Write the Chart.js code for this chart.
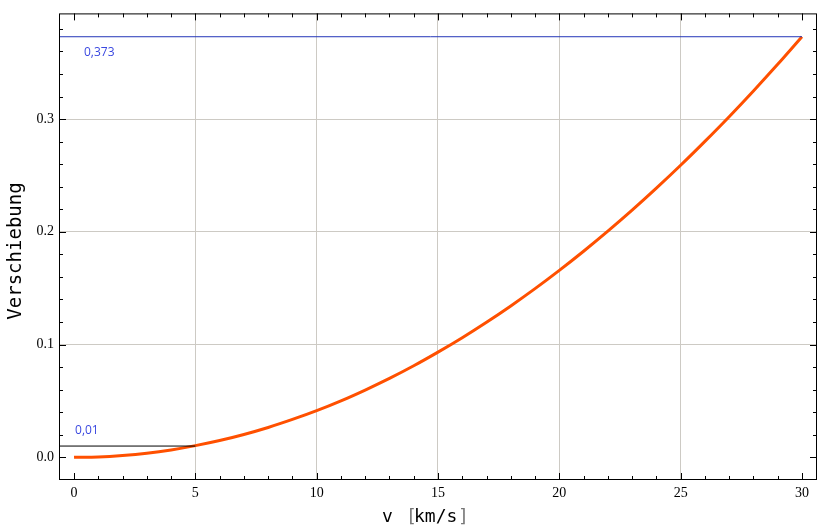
<!DOCTYPE html>
<html lang="de">

<head>
    <meta charset="UTF-8">
    <title>Verschiebung</title>
    <script src="https://cdn.jsdelivr.net/npm/chart.js"></script>
    <style>
        body { margin: 0; background: #fff; }
    </style>
</head>

<body>
    <canvas id="chart" width="829" height="531"></canvas>

    <script>
        // values: v in km/s, displacement
        const speeds = [0, 1, 2, 3, 4, 5, 6, 7, 8, 9, 10, 11, 12, 13, 14, 15,
            16, 17, 18, 19, 20, 21, 22, 23, 24, 25, 26, 27, 28, 29, 30];
        const shift = [0.0000, 0.0004, 0.0017, 0.0037, 0.0066, 0.0104, 0.0149, 0.0203,
            0.0265, 0.0336, 0.0414, 0.0501, 0.0597, 0.0700, 0.0812, 0.0933,
            0.1061, 0.1198, 0.1343, 0.1496, 0.1658, 0.1828, 0.2006, 0.2192,
            0.2387, 0.2590, 0.2802, 0.3021, 0.3249, 0.3485, 0.3730];
        const lowMark = { v: 5, y: 0.01, label: '0,01' };
        const highMark = { v: 30, y: 0.373, label: '0,373' };
        const xTicks = [0, 5, 10, 15, 20, 25, 30];
        const yTicks = ['0.0', '0.1', '0.2', '0.3'];

        const xMin = -0.62, xMax = 30.62;
        const yMin = -0.0201, yMax = 0.3937;

        const framePlugin = {
            id: 'frame',
            afterDraw(chart) {
                const { ctx, chartArea: a, scales: { x, y } } = chart;
                ctx.save();
                ctx.strokeStyle = '#000';
                ctx.lineWidth = 1;
                ctx.strokeRect(a.left + 0.5, a.top + 0.5, a.right - a.left - 1, a.bottom - a.top - 1);

                // ticks on all four sides, pointing inward
                ctx.beginPath();
                for (let v = 0; v <= 30; v++) {
                    const px = Math.round(x.getPixelForValue(v)) + 0.5;
                    const len = v % 5 === 0 ? 7 : 4;
                    ctx.moveTo(px, a.bottom); ctx.lineTo(px, a.bottom - len);
                    ctx.moveTo(px, a.top); ctx.lineTo(px, a.top + len);
                }
                for (let i = 0; i <= 19; i++) {
                    const v = i * 0.02;
                    const py = Math.round(y.getPixelForValue(v)) + 0.5;
                    const len = i % 5 === 0 ? 7 : 4;
                    ctx.moveTo(a.left, py); ctx.lineTo(a.left + len, py);
                    ctx.moveTo(a.right, py); ctx.lineTo(a.right - len, py);
                }
                ctx.stroke();

                // value labels
                ctx.fillStyle = '#3a48e0';
                ctx.font = '12px "Open Sans", sans-serif';
                ctx.textBaseline = 'middle';
                ctx.textAlign = 'left';
                ctx.fillText(highMark.label, x.getPixelForValue(0.41), y.getPixelForValue(0.359));
                ctx.fillText(lowMark.label, x.getPixelForValue(0.04), y.getPixelForValue(0.024));

                // axis titles
                ctx.fillStyle = '#000';
                ctx.font = '19px "DejaVu Sans Mono", monospace';
                ctx.textAlign = 'center';
                ctx.save();
                ctx.translate(16, 251);
                ctx.rotate(-Math.PI / 2);
                ctx.fillText('Verschiebung', 0, 0);
                ctx.restore();

                ctx.font = '18px "DejaVu Sans Mono", monospace';
                ctx.textAlign = 'left';
                ctx.textBaseline = 'alphabetic';
                ctx.fillText('v', 382, 522);
                ctx.fillText('km/s', 414, 522);
                ctx.fillStyle = '#777';
                ctx.fillText('[', 406, 522);
                ctx.fillText(']', 458, 522);
                ctx.restore();
            }
        };

        const grey = '#cdcac4';
        const ctx = document.getElementById('chart').getContext('2d');
        new Chart(ctx, {
            type: 'scatter',
            data: {
                datasets: [
                    {
                        data: [{ x: xMin, y: highMark.y }, { x: highMark.v, y: highMark.y }],
                        showLine: true, borderColor: '#2436b8', borderWidth: 1,
                        pointRadius: 0
                    },
                    {
                        data: [{ x: xMin, y: lowMark.y }, { x: lowMark.v, y: lowMark.y }],
                        showLine: true, borderColor: '#000', borderWidth: 1,
                        pointRadius: 0
                    },
                    {
                        data: speeds.map((v, i) => ({ x: v, y: shift[i] })),
                        showLine: true, borderColor: '#ff5000', borderWidth: 3,
                        pointRadius: 0, cubicInterpolationMode: 'monotone'
                    }
                ]
            },
            options: {
                responsive: false,
                animation: false,
                layout: { padding: { left: 0, right: 12, top: 12, bottom: 0 } },
                plugins: { legend: { display: false }, tooltip: { enabled: false } },
                scales: {
                    x: {
                        type: 'linear', min: xMin, max: xMax,
                        afterFit: s => { s.height = 51; },
                        afterBuildTicks: s => { s.ticks = xTicks.map(v => ({ value: v })); },
                        border: { display: false },
                        grid: {
                            drawTicks: false,
                            color: c => (c.tick && c.tick.value > 0 && c.tick.value < 30) ? grey : 'rgba(0,0,0,0)'
                        },
                        ticks: {
                            padding: 5, color: '#000', maxRotation: 0,
                            font: { family: '"Liberation Serif", serif', size: 14 },
                            callback: v => String(v)
                        }
                    },
                    y: {
                        type: 'linear', min: yMin, max: yMax,
                        afterFit: s => { s.width = 59; },
                        afterBuildTicks: s => { s.ticks = yTicks.map(t => ({ value: parseFloat(t) })); },
                        border: { display: false },
                        grid: {
                            drawTicks: false,
                            color: c => (c.tick && c.tick.value > 0.05) ? grey : 'rgba(0,0,0,0)'
                        },
                        ticks: {
                            padding: 5, color: '#000',
                            font: { family: '"Liberation Serif", serif', size: 14 },
                            callback: v => v.toFixed(1)
                        }
                    }
                }
            },
            plugins: [framePlugin]
        });
    </script>
</body>

</html>
